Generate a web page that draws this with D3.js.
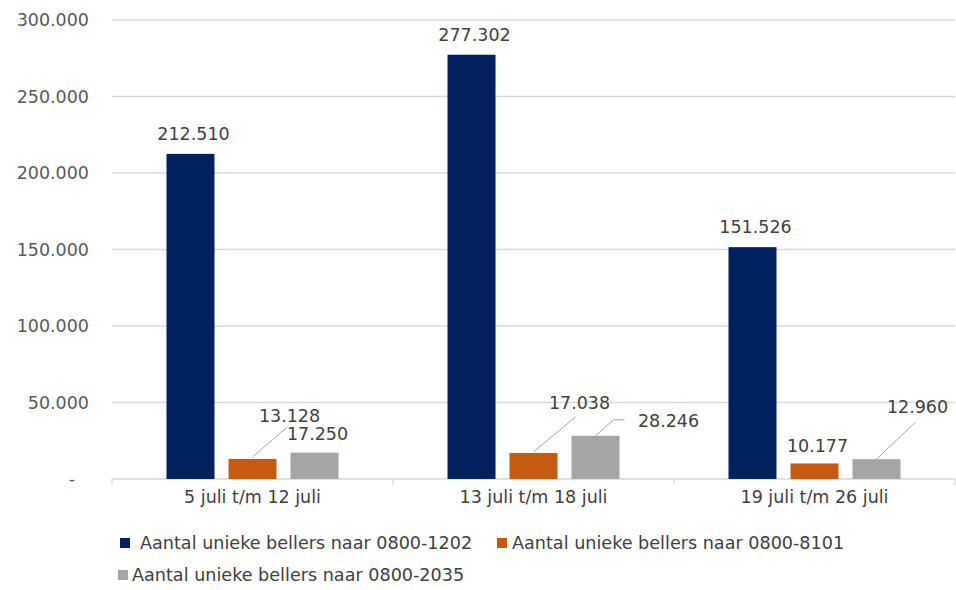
<!DOCTYPE html>
<html>
<head>
<meta charset="utf-8">
<script src="https://cdn.jsdelivr.net/npm/d3@7"></script>
<style>
  body { margin: 0; background: #fff; }
  text { font-family: "DejaVu Sans", Verdana, sans-serif; }
</style>
</head>
<body>
<div id="chart"></div>
<script>
// data
const categories = ["5 juli t/m 12 juli", "13 juli t/m 18 juli", "19 juli t/m 26 juli"];
const seriesNames = [
  "Aantal unieke bellers naar 0800-1202",
  "Aantal unieke bellers naar 0800-8101",
  "Aantal unieke bellers naar 0800-2035"
];
const calls1202 = [212510, 277302, 151526];
const calls8101 = [13128, 17038, 10177];
const calls2035 = [17250, 28246, 12960];
const yTicks = [0, 50000, 100000, 150000, 200000, 250000, 300000];

const colors = ["#002060", "#C55A11", "#A5A5A5"];

// label offsets (dx, dy from top centre of bar), leader line points
const labelPos = [
  [{ dx: 3, dy: -20 }, { dx: 3, dy: -20 }, { dx: 3, dy: -20 }],
  [{ dx: 37, dy: -43, lead: [[0, -2], [35, -32]] },
   { dx: 46, dy: -50, lead: [[0, -1], [42, -36]] },
   { dx: 3, dy: -18 }],
  [{ dx: 3, dy: -19 },
   { dx: 73, dy: -15, lead: [[0, 0], [18, -16], [29, -16]] },
   { dx: 41, dy: -52, lead: [[0, 0], [39, -37]] }]
];

const W = 956, H = 590;
const margin = { top: 20, right: 1, bottom: 111, left: 112 };
const width = W - margin.left - margin.right,
  height = H - margin.top - margin.bottom;

let svg = d3.select("#chart").append("svg")
  .attr("width", W).attr("height", H)
  .append("g")
  .attr("transform", "translate(" + margin.left + "," + margin.top + ")");

const series = [calls1202, calls8101, calls2035];

let x0 = d3.scaleBand().domain(categories).range([0, width])
  .paddingInner(0.388).paddingOuter(0.194);
let x1 = d3.scaleBand().domain([0, 1, 2]).range([0, x0.bandwidth()])
  .paddingInner(0.226).paddingOuter(0);
let y = d3.scaleLinear().domain([0, 300000]).range([height, 0]);

const fmt = v => v === 0 ? "-" : d3.format(",")(v).replace(/,/g, ".");

// gridlines
svg.append("g").selectAll("line")
  .data(yTicks.filter(d => d > 0))
  .join("line")
  .attr("x1", 0).attr("x2", width)
  .attr("y1", d => y(d)).attr("y2", d => y(d))
  .attr("stroke", "#D9D9D9").attr("stroke-width", 1.3);

// y axis labels
svg.append("g").selectAll("text")
  .data(yTicks)
  .join("text")
  .attr("x", d => d === 0 ? -40 : -23)
  .attr("y", d => y(d))
  .attr("dy", "0.35em")
  .attr("text-anchor", d => d === 0 ? "middle" : "end")
  .attr("fill", "#595959")
  .style("font-size", "17.5px")
  .text(fmt);

// x axis
svg.append("line")
  .attr("x1", 0).attr("x2", width)
  .attr("y1", height).attr("y2", height)
  .attr("stroke", "#D9D9D9").attr("stroke-width", 1.3);
const step = x0.step();
svg.append("g").selectAll("line")
  .data(d3.range(categories.length + 1))
  .join("line")
  .attr("x1", i => i * step).attr("x2", i => i * step)
  .attr("y1", height).attr("y2", height + 6)
  .attr("stroke", "#D9D9D9").attr("stroke-width", 1.3);
svg.append("g").selectAll("text")
  .data(categories)
  .join("text")
  .attr("x", d => x0(d) + x0.bandwidth() / 2)
  .attr("y", height + 18)
  .attr("dy", "0.35em")
  .attr("text-anchor", "middle")
  .attr("fill", "#404040")
  .style("font-size", "17.5px")
  .text(d => d);

// bars
series.forEach((vals, s) => {
  let g = svg.append("g");
  g.selectAll("rect")
    .data(vals)
    .join("rect")
    .attr("x", (d, i) => x0(categories[i]) + x1(s))
    .attr("y", d => y(d))
    .attr("width", x1.bandwidth())
    .attr("height", d => height - y(d))
    .attr("fill", colors[s]);

  vals.forEach((v, i) => {
    const cx = x0(categories[i]) + x1(s) + x1.bandwidth() / 2;
    const ty = y(v);
    const p = labelPos[s][i];
    if (p.lead) {
      g.append("path")
        .attr("d", d3.line()(p.lead.map(q => [cx + q[0], ty + q[1]])))
        .attr("fill", "none")
        .attr("stroke", "#A6A6A6")
        .attr("stroke-width", 1);
    }
    g.append("text")
      .attr("x", cx + p.dx)
      .attr("y", ty + p.dy)
      .attr("dy", "0.35em")
      .attr("text-anchor", "middle")
      .attr("fill", "#404040")
      .style("font-size", "17.5px")
      .text(fmt(v));
  });
});

// legend
const legendItems = [
  { name: seriesNames[0], color: colors[0], x: 120, tx: 140, y: 543 },
  { name: seriesNames[1], color: colors[1], x: 497, tx: 512, y: 543 },
  { name: seriesNames[2], color: colors[2], x: 118, tx: 132, y: 575 }
];
let lg = d3.select("#chart svg").append("g");
legendItems.forEach(it => {
  lg.append("rect")
    .attr("x", it.x).attr("y", it.y - 5)
    .attr("width", 10).attr("height", 10)
    .attr("fill", it.color);
  lg.append("text")
    .attr("x", it.tx).attr("y", it.y)
    .attr("dy", "0.35em")
    .attr("fill", "#404040")
    .style("font-size", "17.6px")
    .text(it.name);
});
</script>
</body>
</html>
